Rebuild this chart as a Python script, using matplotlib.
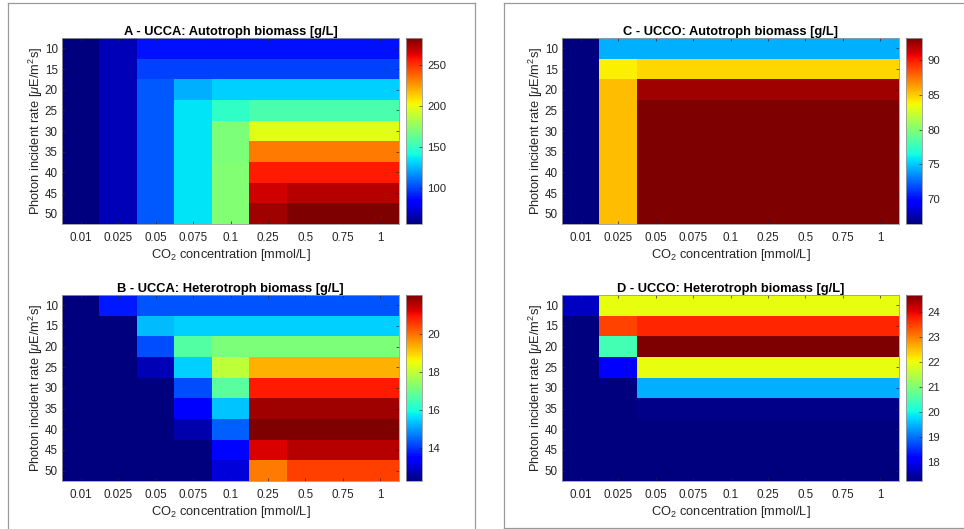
import numpy as np
import matplotlib
matplotlib.use("Agg")
import matplotlib.pyplot as plt
from matplotlib.lines import Line2D

plt.rcParams["font.family"] = ["Liberation Sans", "DejaVu Sans"]
plt.rcParams["mathtext.fontset"] = "custom"
plt.rcParams["mathtext.rm"] = "Liberation Sans"
plt.rcParams["mathtext.it"] = "Liberation Sans:italic"

# ============================== Data

co2_labels = ["0.01", "0.025", "0.05", "0.075", "0.1", "0.25", "0.5", "0.75", "1"]
light_labels = ["10", "15", "20", "25", "30", "35", "40", "45", "50"]

# A - UCCA autotroph biomass [g/L] (rows = light, cols = CO2)
ucca_auto = [
    [56, 67, 88, 88, 88, 88, 88, 88, 88],
    [56, 67, 99, 99, 99, 99, 99, 99, 99],
    [56, 67, 104, 124, 131, 131, 131, 131, 131],
    [56, 67, 104, 135, 149, 156, 156, 156, 156],
    [56, 67, 104, 135, 170, 197, 197, 197, 197],
    [56, 67, 104, 135, 170, 233, 233, 233, 233],
    [56, 67, 104, 135, 172, 256, 256, 256, 256],
    [56, 67, 104, 135, 172, 267, 272, 272, 272],
    [56, 67, 104, 135, 172, 276, 283, 283, 283],
]

# B - UCCA heterotroph biomass [g/L]
ucca_hetero = [
    [12.26, 13.73, 14.32, 14.32, 14.32, 14.32, 14.32, 14.32, 14.32],
    [12.26, 12.26, 15.30, 15.50, 15.50, 15.50, 15.50, 15.50, 15.50],
    [12.26, 12.26, 14.22, 16.68, 17.17, 17.17, 17.17, 17.17, 17.17],
    [12.26, 12.26, 12.75, 15.50, 17.96, 19.33, 19.33, 19.33, 19.33],
    [12.26, 12.26, 12.26, 14.22, 16.78, 20.90, 20.90, 20.90, 20.90],
    [12.26, 12.26, 12.26, 13.44, 15.40, 21.79, 21.79, 21.79, 21.79],
    [12.26, 12.26, 12.26, 12.65, 14.42, 22.08, 22.08, 22.08, 22.08],
    [12.26, 12.26, 12.26, 12.26, 13.54, 21.29, 21.59, 21.59, 21.59],
    [12.26, 12.26, 12.26, 12.26, 13.05, 19.92, 20.51, 20.51, 20.51],
]

# C - UCCO autotroph biomass [g/L]
ucco_auto = [
    [66.37, 74.43, 74.43, 74.43, 74.43, 74.43, 74.43, 74.43, 74.43],
    [66.37, 84.00, 84.64, 84.64, 84.64, 84.64, 84.64, 84.64, 84.64],
    [66.37, 85.45, 92.43, 92.43, 92.43, 92.43, 92.43, 92.43, 92.43],
    [66.37, 85.45, 93.24, 93.24, 93.24, 93.24, 93.24, 93.24, 93.24],
    [66.37, 85.45, 93.24, 93.24, 93.24, 93.24, 93.24, 93.24, 93.24],
    [66.37, 85.45, 93.24, 93.24, 93.24, 93.24, 93.24, 93.24, 93.24],
    [66.37, 85.45, 93.24, 93.24, 93.24, 93.24, 93.24, 93.24, 93.24],
    [66.37, 85.45, 93.24, 93.24, 93.24, 93.24, 93.24, 93.24, 93.24],
    [66.37, 85.45, 93.24, 93.24, 93.24, 93.24, 93.24, 93.24, 93.24],
]

# D - UCCO heterotroph biomass [g/L]
ucco_hetero = [
    [17.71, 21.93, 21.93, 21.93, 21.93, 21.93, 21.93, 21.93, 21.93],
    [17.26, 23.49, 23.72, 23.72, 23.72, 23.72, 23.72, 23.72, 23.72],
    [17.26, 20.45, 24.68, 24.68, 24.68, 24.68, 24.68, 24.68, 24.68],
    [17.26, 18.15, 21.93, 21.93, 21.93, 21.93, 21.93, 21.93, 21.93],
    [17.26, 17.26, 19.49, 19.49, 19.49, 19.49, 19.49, 19.49, 19.49],
    [17.26, 17.26, 17.33, 17.33, 17.33, 17.33, 17.33, 17.33, 17.33],
    [17.26, 17.26, 17.26, 17.26, 17.26, 17.26, 17.26, 17.26, 17.26],
    [17.26, 17.26, 17.26, 17.26, 17.26, 17.26, 17.26, 17.26, 17.26],
    [17.26, 17.26, 17.26, 17.26, 17.26, 17.26, 17.26, 17.26, 17.26],
]

cbar_ticks = {
    "A": [100, 150, 200, 250],
    "B": [14, 16, 18, 20],
    "C": [70, 75, 80, 85, 90],
    "D": [18, 19, 20, 21, 22, 23, 24],
}

# ============================== Figure

W, H = 964, 529
fig = plt.figure(figsize=(W / 100, H / 100), dpi=100)
TXT = "#262626"
EDGE = "#9a9a9a"


def px_rect(x0, y0, x1, y1):
    return [x0 / W, 1 - y1 / H, (x1 - x0) / W, (y1 - y0) / H]


panels = [
    ("A", "A - UCCA: Autotroph biomass [g/L]", ucca_auto, 62, 38),
    ("B", "B - UCCA: Heterotroph biomass [g/L]", ucca_hetero, 62, 295),
    ("C", "C - UCCO: Autotroph biomass [g/L]", ucco_auto, 562, 38),
    ("D", "D - UCCO: Heterotroph biomass [g/L]", ucco_hetero, 562, 295),
]

for key, title, data, x0, y0 in panels:
    arr = np.array(data, dtype=float)
    ax = fig.add_axes(px_rect(x0, y0, x0 + 337, y0 + 186))
    im = ax.imshow(arr, cmap="jet", aspect="auto", interpolation="nearest")
    ax.set_xticks(range(len(co2_labels)))
    ax.set_xticklabels(co2_labels)
    ax.set_yticks(range(len(light_labels)))
    ax.set_yticklabels(light_labels)
    ax.tick_params(direction="in", top=True, right=True, length=2.5, width=0.5,
                   color=TXT, labelcolor=TXT, labelsize=8.4)
    ax.tick_params(axis="x", pad=6)
    ax.tick_params(axis="y", pad=3)
    for s in ax.spines.values():
        s.set_color(EDGE)
        s.set_linewidth(0.6)
    ax.set_title(title, fontsize=9.3, fontweight="bold", color="black", pad=2)
    ax.set_xlabel("CO$_2$ concentration [mmol/L]", fontsize=9.3, color=TXT, labelpad=2)
    ax.set_ylabel("Photon incident rate [$\\mu$E/m$^2$s]", fontsize=9.3, color=TXT, labelpad=0)

    cax = fig.add_axes(px_rect(x0 + 344, y0, x0 + 360, y0 + 186))
    cb = fig.colorbar(im, cax=cax)
    cb.set_ticks(cbar_ticks[key])
    cb.outline.set_edgecolor(EDGE)
    cb.outline.set_linewidth(0.6)
    cax.tick_params(direction="in", length=2.5, width=0.5, color=TXT,
                    labelcolor=TXT, labelsize=8.2, pad=4)

# boxes around the two halves
lines = [
    ([8, 8], [3, H]), ([8, 475], [3, 3]), ([475, 475], [3, H]),
    ([504, 504], [3, 528]), ([504, W], [3, 3]), ([504, W], [528, 528]),
]
for xs, ys in lines:
    fig.add_artist(Line2D([x / W for x in xs], [1 - y / H for y in ys],
                          color=EDGE, linewidth=0.9, transform=fig.transFigure))

fig.savefig("out.png", dpi=100)
